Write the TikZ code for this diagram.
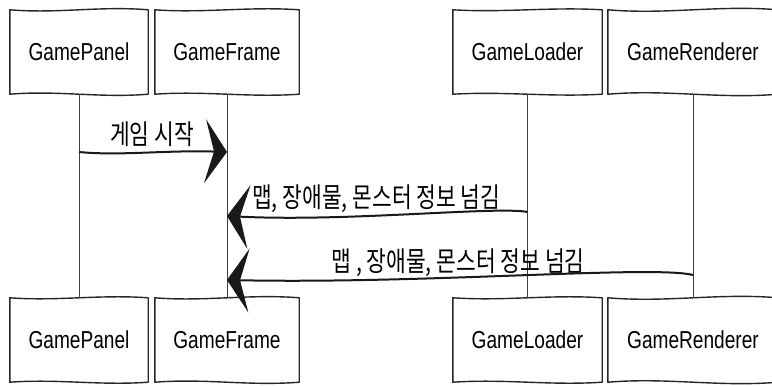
\documentclass[tikz,border=0pt]{standalone}
\usepackage{fontspec}
\setmainfont{Liberation Sans}[FakeStretch=0.78]
\newfontfamily\kr{Noto Sans CJK KR}[FakeStretch=0.78]
\usetikzlibrary{arrows.meta,calc}

\tikzset{
  actor/.style={minimum height=84pt, inner sep=0pt, font=\fontsize{24.5}{28}\selectfont},
  outline/.style={draw=black!85, line width=1.4pt, line join=round},
  lifeline/.style={draw=black!75, line width=1pt},
  msg/.style={draw=black!90, line width=2pt,
    -{Stealth[length=22pt, width=64pt, inset=9pt, line width=0pt]}},
  msglabel/.style={font=\kr\fontsize{27.5}{30}\selectfont, inner sep=0pt},
}

% hand-drawn box outline around a node, with gently waving top and bottom edges
\newcommand\sketchframe[2]{%
  \draw[outline]
    (#1.north west)
      .. controls ($(#1.north west)!0.35!(#1.north east)+(0,#2)$)
              and ($(#1.north west)!0.65!(#1.north east)+(0,-#2)$) .. (#1.north east)
    -- (#1.south east)
      .. controls ($(#1.south west)!0.65!(#1.south east)+(0,#2)$)
              and ($(#1.south west)!0.35!(#1.south east)+(0,-#2)$) .. (#1.south west)
    -- cycle;}

\begin{document}
\begin{tikzpicture}[x=1pt, y=-1pt]
  \useasboundingbox (0,0) rectangle (772,386);
  \clip (0,0) rectangle (772,386);

  % participants, top row
  \node[actor, minimum width=138pt] (tpanel)  at (79,52)  {GamePanel};
  \node[actor, minimum width=144pt] (tframe)  at (227,52) {GameFrame};
  \node[actor, minimum width=149pt] (tloader) at (527.5,52) {GameLoader};
  \node[actor, minimum width=170pt] (trender) at (693,52) {GameRenderer};

  % participants, bottom row
  \node[actor, minimum width=138pt] (bpanel)  at (79,340)  {GamePanel};
  \node[actor, minimum width=144pt] (bframe)  at (227,340) {GameFrame};
  \node[actor, minimum width=149pt] (bloader) at (527.5,340) {GameLoader};
  \node[actor, minimum width=170pt] (brender) at (693,340) {GameRenderer};

  \sketchframe{tpanel}{4}
  \sketchframe{tframe}{3.5}
  \sketchframe{tloader}{3}
  \sketchframe{trender}{5}
  \sketchframe{bpanel}{3.5}
  \sketchframe{bframe}{4}
  \sketchframe{bloader}{3.5}
  \sketchframe{brender}{5}

  % lifelines
  \draw[lifeline] (tpanel.south)  -- (bpanel.north);
  \draw[lifeline] (tframe.south)  -- (bframe.north);
  \draw[lifeline] (tloader.south) -- (bloader.north);
  \draw[lifeline] (trender.south) -- (brender.north);

  % message anchor points on the lifelines
  \coordinate (m1a) at (tpanel.south  |- 0,152);
  \coordinate (m1b) at (tframe.south  |- 0,152);
  \coordinate (m2a) at (tloader.south |- 0,212);
  \coordinate (m2b) at (tframe.south  |- 0,216);
  \coordinate (m3a) at (trender.south |- 0,275);
  \coordinate (m3b) at (tframe.south  |- 0,280);

  % messages
  \draw[msg] (m1a) .. controls ($(m1a)+(40,4)$) and ($(m1b)+(-60,-2)$) .. (m1b);
  \draw[msg] (m2a) .. controls ($(m2a)+(-30,-6)$) and ($(m2b)+(120,6)$) .. (m2b);
  \draw[msg] (m3a) .. controls ($(m3a)+(-40,-10)$) and ($(m3b)+(200,4)$) .. (m3b);

  % message texts
  \node[msglabel] (l1) at (152,134) {게임 시작};
  \node[msglabel, anchor=west] (l2) at (252,199) {맵, 장애물, 몬스터 정보 넘김};
  \node[msglabel] (l3) at (458,263) {맵 , 장애물, 몬스터 정보 넘김};
\end{tikzpicture}
\end{document}
